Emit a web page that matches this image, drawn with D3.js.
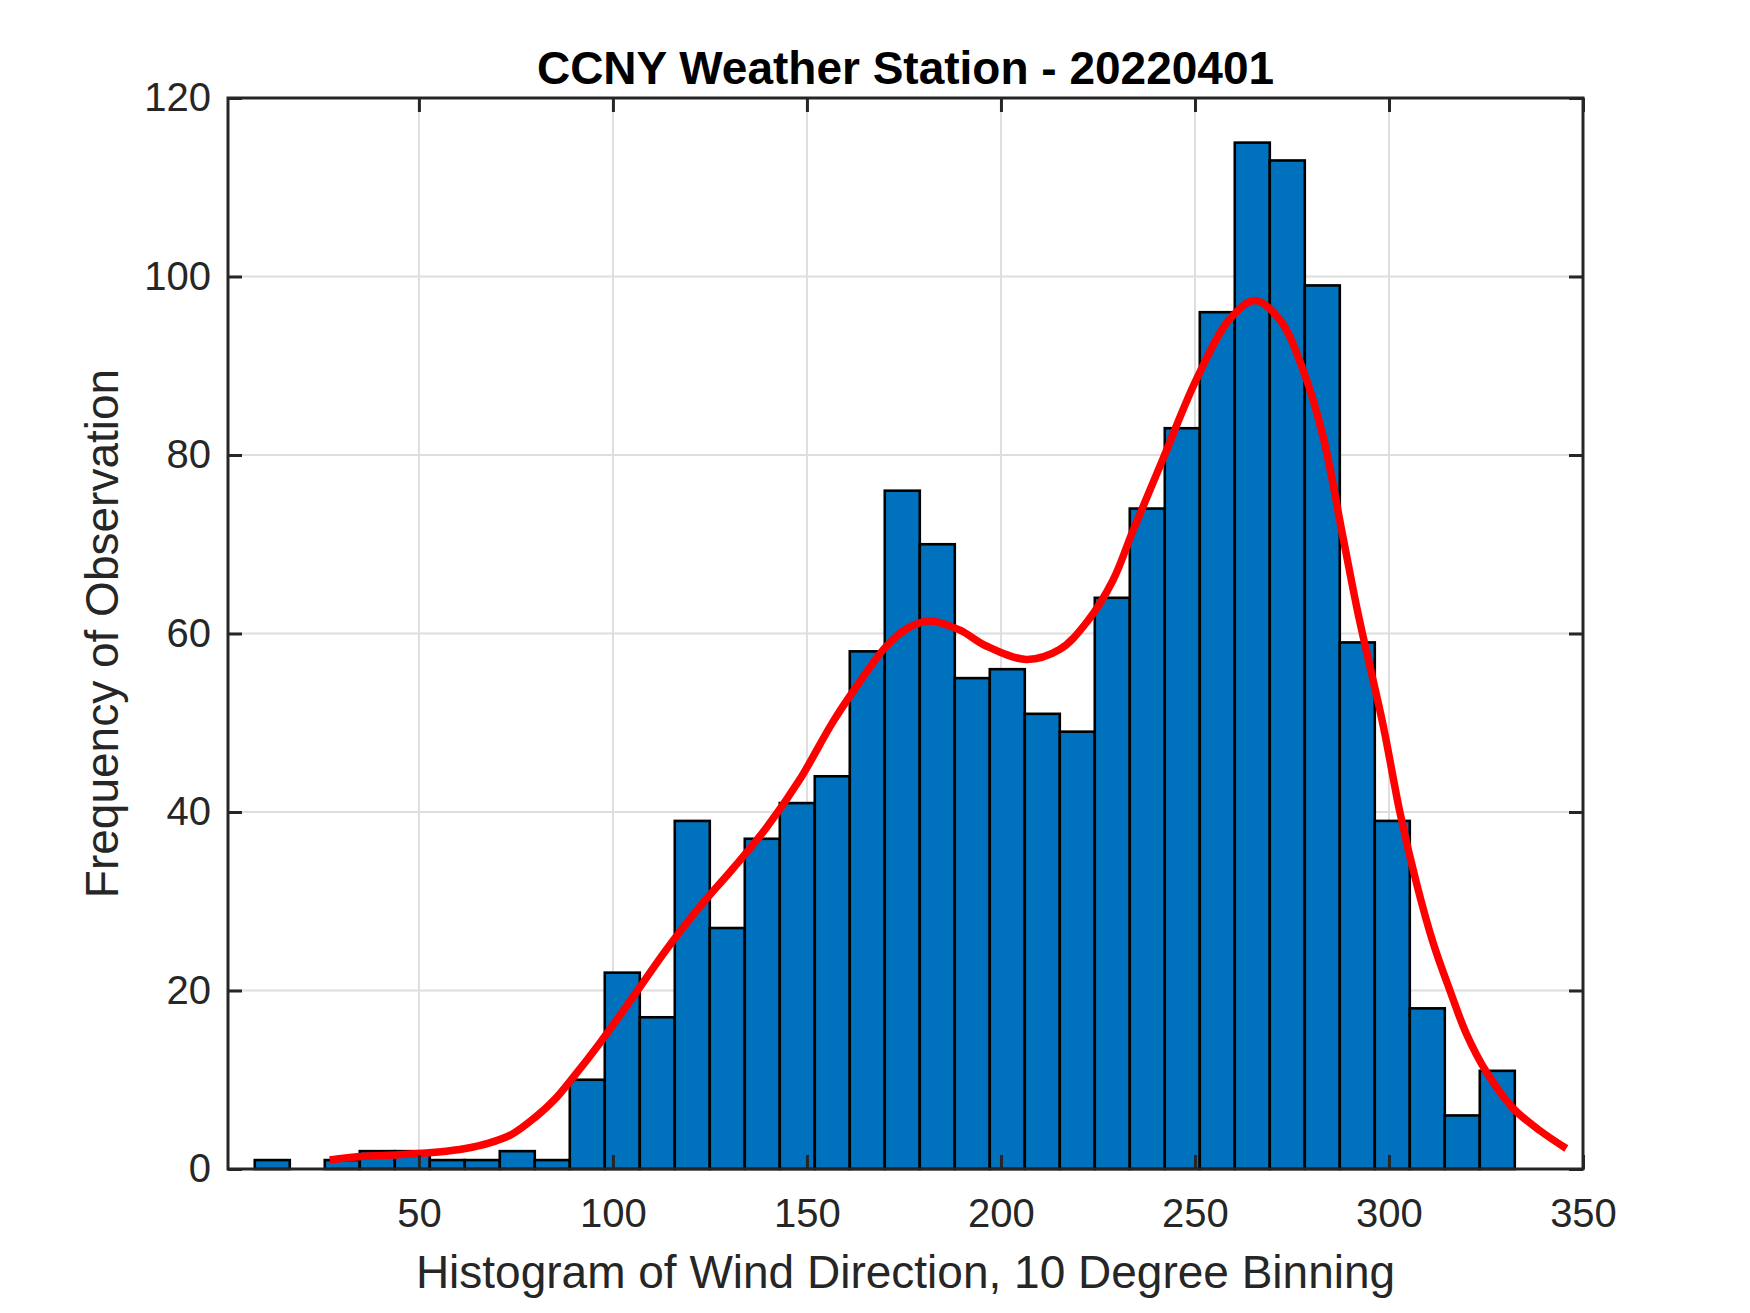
<!DOCTYPE html>
<meta charset="utf-8">
<script src="https://cdnjs.cloudflare.com/ajax/libs/d3/7.8.5/d3.min.js"></script>
<style>
  body { margin: 0; background: #fff; }
  svg { display: block; font-family: "Liberation Sans", Arial, sans-serif; }
  .tick text { fill: #262626; font-size: 40px; }
  .grid line { stroke: #dedede; stroke-width: 2px; }
  .bar { fill: #0072bd; stroke: #000; stroke-width: 2.6px; }
  .fit { fill: none; stroke: #ff0000; stroke-width: 7.5px; stroke-linejoin: round; }
  .label { fill: #262626; font-size: 46px; }
  .title { fill: #000; font-size: 46px; font-weight: bold; }
</style>
<body>
<script>

// histogram: 36 bins, first edge and width
var binStart = 7.7,
    binWidth = 9.02;

var counts = [1, 0, 1, 2, 2, 1, 1, 2, 1, 10,
              22, 17, 39, 27, 37, 41, 44, 58, 76, 70,
              55, 56, 51, 49, 64, 74, 83, 96, 115, 113,
              99, 59, 39, 18, 6, 11];

// red fitted curve, [direction, frequency]
var fitX = [27, 35, 45, 55, 62, 68, 74, 80, 85, 90, 96.6, 105.2, 113.8, 122.4, 131,
            139.5, 148.1, 156.7, 163, 170.5, 176, 181.6, 189.3, 196.2, 206.5,
            215.1, 222, 228.9, 234, 241.7, 250.4, 258.9, 265.4, 271.8, 277.8,
            283, 288.1, 292, 298.5, 302.8, 307.1, 311.4, 315.7, 320, 325.2, 332,
            338.9, 345.7];
var fitY = [1.0, 1.4, 1.6, 1.9, 2.3, 2.9, 3.9, 5.8, 7.8, 10.4, 14.1, 19.3, 24.6, 29.4, 33.7,
            38.2, 43.6, 50.1, 54.2, 58.6, 60.6, 61.4, 60.4, 58.6, 57.1,
            58.2, 61.2, 66.0, 71.5, 79.5, 88.5, 95.2, 97.3, 95.2, 89.6,
            82.1, 70.9, 62.3, 49.7, 40, 32, 25.3, 20, 15.1, 10.8, 6.8,
            4.3, 2.3];

var xTicks = [50, 100, 150, 200, 250, 300, 350];
var yTicks = [0, 20, 40, 60, 80, 100, 120];

var titleText = "CCNY Weather Station - 20220401",
    xLabel = "Histogram of Wind Direction, 10 Degree Binning",
    yLabel = "Frequency of Observation";

var W = 1750, H = 1313;
var margin = {top: 98, right: 167, bottom: 144, left: 228};
var width = W - margin.left - margin.right,
    height = H - margin.top - margin.bottom;

var svg = d3.select("body").append("svg")
    .attr("width", W)
    .attr("height", H);

svg.append("rect").attr("width", W).attr("height", H).attr("fill", "#fff");

var g = svg.append("g")
    .attr("transform", "translate(" + margin.left + "," + margin.top + ")");

var x = d3.scaleLinear().domain([0.8, 350]).range([0, width]);
var y = d3.scaleLinear().domain([0, 120]).range([height, 0]);

// grid
g.append("g").attr("class", "grid")
  .selectAll("line.v").data(xTicks).enter().append("line")
    .attr("x1", x).attr("x2", x).attr("y1", 0).attr("y2", height);
g.select(".grid")
  .selectAll("line.h").data(yTicks).enter().append("line")
    .attr("y1", y).attr("y2", y).attr("x1", 0).attr("x2", width);

// bars
var bins = counts.map(function(c, i) {
  return {x0: binStart + i * binWidth, x1: binStart + (i + 1) * binWidth, n: c};
}).filter(function(d) { return d.n > 0; });

g.selectAll(".bar").data(bins).enter().append("rect")
    .attr("class", "bar")
    .attr("x", function(d) { return x(d.x0); })
    .attr("width", function(d) { return x(d.x1) - x(d.x0); })
    .attr("y", function(d) { return y(d.n); })
    .attr("height", function(d) { return y(0) - y(d.n); });

// fitted curve
var fit = fitX.map(function(v, i) { return [v, fitY[i]]; });
g.append("path").datum(fit)
    .attr("class", "fit")
    .attr("d", d3.line()
      .x(function(d) { return x(d[0]); })
      .y(function(d) { return y(d[1]); })
      .curve(d3.curveCatmullRom.alpha(0.5)));

// axes, ticks inside, box all round
var tickLen = 14;
var axisStyle = function(sel) {
  sel.select(".domain").remove();
  sel.selectAll(".tick line").attr("stroke", "#262626").attr("stroke-width", 3);
};

g.append("g")
    .attr("transform", "translate(0," + height + ")")
    .call(d3.axisBottom(x).tickValues(xTicks).tickSizeInner(-tickLen).tickPadding(30))
    .call(axisStyle);
g.append("g")
    .call(d3.axisTop(x).tickValues(xTicks).tickSizeInner(-tickLen).tickFormat(""))
    .call(axisStyle);
g.append("g")
    .call(d3.axisLeft(y).tickValues(yTicks).tickSizeInner(-tickLen).tickPadding(17))
    .call(axisStyle);
g.append("g")
    .attr("transform", "translate(" + width + ",0)")
    .call(d3.axisRight(y).tickValues(yTicks).tickSizeInner(-tickLen).tickFormat(""))
    .call(axisStyle);

g.selectAll(".tick text").attr("font-family", null).attr("font-size", null);

g.append("rect")
    .attr("width", width).attr("height", height)
    .attr("fill", "none").attr("stroke", "#262626").attr("stroke-width", 3);

// texts
svg.append("text").attr("class", "title")
    .attr("x", margin.left + width / 2).attr("y", 84)
    .attr("text-anchor", "middle")
    .text(titleText);

svg.append("text").attr("class", "label")
    .attr("x", margin.left + width / 2).attr("y", 1288)
    .attr("text-anchor", "middle")
    .text(xLabel);

svg.append("text").attr("class", "label")
    .attr("transform", "translate(118," + (margin.top + height / 2) + ") rotate(-90)")
    .attr("text-anchor", "middle")
    .text(yLabel);

</script>
</body>
